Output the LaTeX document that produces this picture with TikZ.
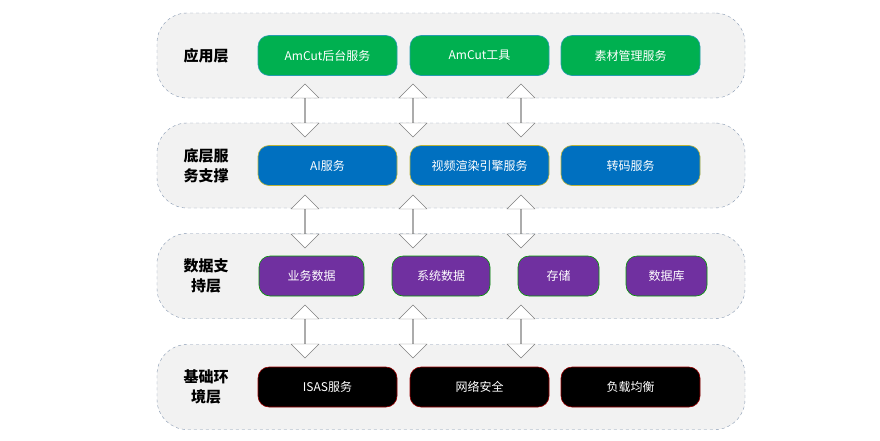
\documentclass[tikz,border=0pt]{standalone}
\usepackage{fontspec}
\setmainfont{Noto Sans CJK SC}
\usetikzlibrary{shapes.arrows}
\definecolor{bandfill}{HTML}{F2F2F2}
\definecolor{banddraw}{HTML}{8497B0}
\definecolor{appgreen}{HTML}{00B050}
\definecolor{appblue}{HTML}{0070C0}
\definecolor{apppurple}{HTML}{7030A0}
\tikzset{
	,x = 1pt, y = -1pt
	,font = \fontsize{12}{14}\selectfont
	,band/.style   = {rectangle, rounded corners=30pt, draw=banddraw, dashed, fill=bandfill, minimum width=588pt, minimum height=85pt}
	,bandlbl/.style = {align=center, font=\fontsize{15}{20}\selectfont\bfseries}
	,svc/.style    = {rectangle, rounded corners=11pt, text=white, minimum height=40pt, line width=0.6pt}
	,svcg/.style   = {svc, fill=appgreen, draw=cyan!45!appgreen, minimum width=139pt}
	,svcb/.style   = {svc, fill=appblue, draw=yellow!70!black, minimum width=139pt}
	,svcp/.style   = {svc, fill=apppurple, draw=green!60!black}
	,svck/.style   = {svc, fill=black, draw=red!60!black, minimum width=139pt}
	,updown/.style = {double arrow, shape border rotate=90, draw=black!50, fill=white, inner sep=0pt,
	                  minimum height=53pt, minimum width=28pt, double arrow head extend=6.5pt}
}
\begin{document}
\begin{tikzpicture}
		\useasboundingbox (0,0) rectangle (880,440);
		% layers
		\node[band] (l1) at (451, 55.5) {};
		\node[band] (l2) at (451,165.5) {};
		\node[band] (l3) at (451,276.0) {};
		\node[band] (l4) at (451,387.0) {};
		\node[bandlbl] (t1) at (206, 55.5) {应用层};
		\node[bandlbl] (t2) at (206,165.5) {底层服\\务支撑};
		\node[bandlbl] (t3) at (206,276.0) {数据支\\持层};
		\node[bandlbl] (t4) at (206,387.0) {基础环\\境层};
		% arrows
		\node[updown] (u1) at (305,110.5) {};
		\node[updown] (u2) at (413,110.5) {};
		\node[updown] (u3) at (521,110.5) {};
		\node[updown] (v1) at (305,221.5) {};
		\node[updown] (v2) at (413,221.5) {};
		\node[updown] (v3) at (521,221.5) {};
		\node[updown] (w1) at (305,331.5) {};
		\node[updown] (w2) at (413,331.5) {};
		\node[updown] (w3) at (521,331.5) {};
		% boxes
		\node[svcg] (a1) at (327.5, 55.5) {AmCut后台服务};
		\node[svcg] (a2) at (479.5, 55.5) {AmCut工具};
		\node[svcg] (a3) at (630.5, 55.5) {素材管理服务};
		\node[svcb] (b1) at (327.5,165.5) {AI服务};
		\node[svcb] (b2) at (479.5,165.5) {视频渲染引擎服务};
		\node[svcb] (b3) at (630.5,165.5) {转码服务};
		\node[svcp, minimum width=105pt] (c1) at (311.5,276.0) {业务数据};
		\node[svcp, minimum width=98pt]  (c2) at (441.0,276.0) {系统数据};
		\node[svcp, minimum width=81pt]  (c3) at (558.5,276.0) {存储};
		\node[svcp, minimum width=81pt]  (c4) at (666.5,276.0) {数据库};
		\node[svck] (d1) at (327.5,387.0) {ISAS服务};
		\node[svck] (d2) at (479.5,387.0) {网络安全};
		\node[svck] (d3) at (630.5,387.0) {负载均衡};
	\end{tikzpicture}
\end{document}
